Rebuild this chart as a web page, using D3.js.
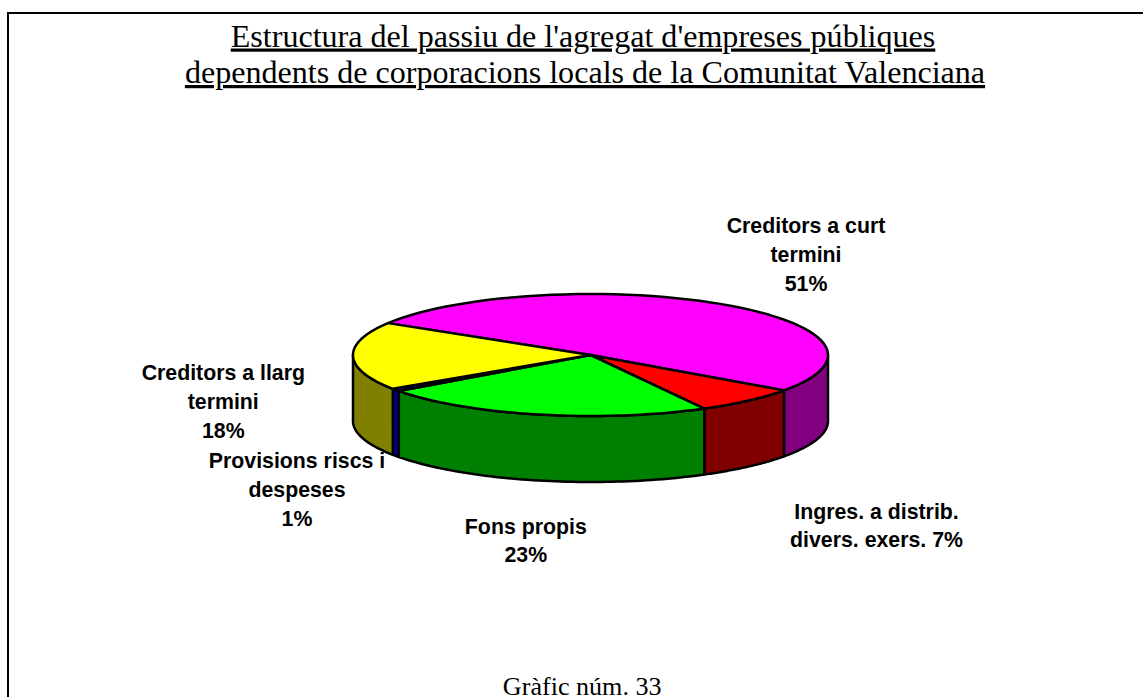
<!DOCTYPE html>
<html><head><meta charset="utf-8">
<script src="https://cdn.jsdelivr.net/npm/d3@7"></script>
<style>html,body{margin:0;padding:0;background:#fff;overflow:hidden}svg{display:block}</style></head>
<body><div id="c"></div>
<script>
const categories=["Creditors a curt termini","Ingres. a distrib. divers. exers.","Fons propis","Provisions riscs i despeses","Creditors a llarg termini"];
const values=[51.1,7.2,22.9,0.7,18.1];
const topColors=["#ff00ff","#ff0000","#00ff00","#000080","#ffff00"];
const sideColors=["#800080","#800000","#008000","#000080","#808000"];
const labelLines=[["Creditors a curt","termini","51%"],["Ingres. a distrib.","divers. exers. 7%"],["Fons propis","23%"],["Provisions riscs i","despeses","1%"],["Creditors a llarg","termini","18%"]];
const labelPos=[[806,233],[876.5,518.5],[525.8,533.5],[297,468],[223.3,380]];
const titleLines=["Estructura del passiu de l'agregat d'empreses públiques","dependents de corporacions locals de la Comunitat Valenciana"];
const footer="Gràfic núm. 33";

const W=1143,H=697,cx=590.5,cy=355,rx=237.5,ry=61,depth=66;
const svg=d3.select("#c").append("svg").attr("width",W).attr("height",H);
svg.append("rect").attr("x",8).attr("y",13).attr("width",W).attr("height",H).attr("fill","#fff").attr("stroke","#000").attr("stroke-width",2);

const serif="'Liberation Serif','Times New Roman',serif", sans="'Liberation Sans',Arial,sans-serif";
svg.selectAll("text.t").data(titleLines).join("text").attr("class","t")
 .attr("x",(d,i)=>583+i*2).attr("y",(d,i)=>46.5+i*36.5).attr("text-anchor","middle")
 .attr("font-family",serif).attr("font-size",32.1).attr("fill","#000")
 .attr("text-decoration","underline").text(d=>d);
svg.append("text").attr("x",582.2).attr("y",695).attr("text-anchor","middle")
 .attr("font-family",serif).attr("font-size",26.1).text(footer);

const startAngle=-58.5*Math.PI/180;
const arcs=d3.pie().sort(null).startAngle(startAngle).endAngle(startAngle+2*Math.PI)(values);
const px=a=>cx+rx*Math.sin(a), py=a=>cy-ry*Math.cos(a);
const line=d3.line();
const sample=(a0,a1)=>d3.range(0,61).map(i=>a0+(a1-a0)*i/60);

const g=svg.append("g").attr("stroke","#000").attr("stroke-width",2.5).attr("stroke-linejoin","round");
arcs.forEach((d,i)=>{
  const a0=Math.max(d.startAngle,Math.PI/2), a1=Math.min(d.endAngle,1.5*Math.PI);
  if(a1<=a0) return;
  const s=sample(a0,a1);
  const pts=s.map(a=>[px(a),py(a)]).concat(s.slice().reverse().map(a=>[px(a),py(a)+depth]));
  g.append("path").attr("d",line(pts)+"Z").attr("fill",sideColors[i]);
});
arcs.forEach((d,i)=>{
  const s=sample(d.startAngle,d.endAngle);
  const pts=[[cx,cy]].concat(s.map(a=>[px(a),py(a)]));
  g.append("path").attr("d",line(pts)+"Z").attr("fill",topColors[i]);
});

labelLines.forEach((ls,i)=>{
  svg.append("g").selectAll("text").data(ls).join("text")
   .attr("x",labelPos[i][0]).attr("y",(d,j)=>labelPos[i][1]+j*28.8)
   .attr("text-anchor","middle").attr("font-family",sans).attr("font-weight","bold")
   .attr("font-size",21.3).attr("fill","#000").text(d=>d);
});
</script></body></html>
